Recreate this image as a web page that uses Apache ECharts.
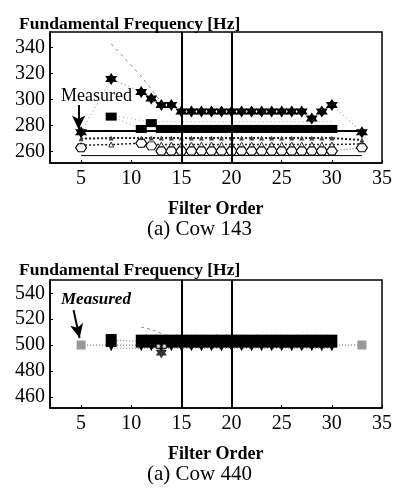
<!DOCTYPE html>
<html><head><meta charset="utf-8">
<script src="https://cdn.jsdelivr.net/npm/echarts@6/dist/echarts.min.js"></script>
<style>html,body{margin:0;padding:0;background:#fff}#c{width:397px;height:491px}</style>
</head><body><div id="c"></div>
<script>
// Filter orders at which points are plotted
const xs = [5, 8, 11, 12, 13, 14, 15, 16, 17, 18, 19, 20, 21, 22, 23, 24, 25, 26, 27, 28, 29, 30, 33];
const xTicks = [5, 10, 15, 20, 25, 30, 35];
const yTicksTop = [260, 280, 300, 320, 340];
const yTicksBot = [460, 480, 500, 520, 540];

// ---- Cow 143 ----
const starTop = [275, 316, 306, 301, 296, 296, 291, 291, 291, 291, 291, 291, 291, 291, 291, 291, 291, 291, 291, 285.5, 291, 296, 275];
const squareTop = [null, 287, 277.5, 282, 277.5, 277.5, 277.5, 277.5, 277.5, 277.5, 277.5, 277.5, 277.5, 277.5, 277.5, 277.5, 277.5, 277.5, 277.5, 277.5, 277.5, 277.5, null];
const grayTop = [null, 288, 284, 283, 283, 283, 283, 283, 283, 283, 283, 283, 283, 283, 283, 283, 283, 283, 283, 283, 283, 283, null];
const dotATop = [270, 270.5, 270.5, 270.5, 270.5, 270.5, 270.5, 270.5, 270.5, 270.5, 270.5, 270.5, 270.5, 270.5, 270.5, 270.5, 270.5, 270.5, 270.5, 270.5, 270.5, 270.5, 269];
const dotBTop = [265, 265.5, 266.5, 265.5, 265.5, 265.5, 265.5, 265.5, 265.5, 265.5, 265.5, 265.5, 265.5, 265.5, 265.5, 265.5, 265.5, 265.5, 265.5, 265.5, 265.5, 265.5, 266];
const hexTop = [263, null, 266.5, 264.5, 260.5, 260.5, 260.5, 260.5, 260.5, 260.5, 260.5, 260.5, 260.5, 260.5, 260.5, 260.5, 260.5, 260.5, 260.5, 260.5, 260.5, 260.5, 263];
const measuredTopX = [5, 33];
const measuredTopY = [276, 276];
const lowLineX = [5, 33];
const lowLineY = [257, 257];
const faintTopX = [8, 11, 13];
const faintTopY = [343, 318, 298];

// ---- Cow 440 ----
const hatchBotX = [5, 33];
const hatchBotY = [500, 500];
const squareBot = [null, 503.5, 503, 503, 503, 503, 503, 503, 503, 503, 503, 503, 503, 503, 503, 503, 503, 503, 503, 503, 503, 503, null];
const triBot = [null, 497.5, 497.5, 497.5, 497.5, 497.5, 497.5, 497.5, 497.5, 497.5, 497.5, 497.5, 497.5, 497.5, 497.5, 497.5, 497.5, 497.5, 497.5, 497.5, 497.5, 497.5, null];
const circBotX = [13];
const circBotY = [499];
const starBotX = [13];
const starBotY = [494];
const faintBotX = [11, 12, 13, 14];
const faintBotY = [514, 512, 509, 505];

const FONT = 'Liberation Serif';
const STAR = 'path://M0,-10L2.885,-5L8.66,-5L5.77,0L8.66,5L2.885,5L0,10L-2.885,5L-8.66,5L-5.77,0L-8.66,-5L-2.885,-5Z';
const HEX = 'path://M-5,0L-2.5,-4.33L2.5,-4.33L5,0L2.5,4.33L-2.5,4.33Z';

const pairs = (x, y) => x.map((v, i) => [v, y[i]]);

function xAxisDef(gi) {
  return {
    type: 'value', gridIndex: gi, min: 1.9, max: 35,
    axisLine: { show: true, lineStyle: { color: '#000', width: 1.5 } },
    axisTick: { show: true, inside: true, length: 3, customValues: xTicks, lineStyle: { color: '#000' } },
    axisLabel: { customValues: xTicks, color: '#000', fontFamily: FONT, fontSize: 20, margin: 6 },
    splitLine: { show: false }
  };
}
function yAxisDef(gi, min, max, ticks) {
  return {
    type: 'value', gridIndex: gi, min: min, max: max,
    axisLine: { show: true, lineStyle: { color: '#000', width: 1.5 } },
    axisTick: { show: true, inside: true, length: 3, customValues: ticks, lineStyle: { color: '#000' } },
    axisLabel: { customValues: ticks, color: '#000', fontFamily: FONT, fontSize: 20, margin: 5 },
    splitLine: { show: false }
  };
}
const vLines = (gi) => ({
  silent: true, symbol: 'none', label: { show: false },
  lineStyle: { color: '#000', width: 2, type: 'solid' },
  data: [{ xAxis: 15 }, { xAxis: 20 }]
});

const option = {
  backgroundColor: '#fff',
  animation: false,
  title: [
    { text: 'Fundamental Frequency [Hz]', left: 14, top: 10, textStyle: { fontFamily: FONT, fontSize: 17.5, fontWeight: 'bold', color: '#000' } },
    { text: 'Fundamental Frequency [Hz]', left: 14, top: 256, textStyle: { fontFamily: FONT, fontSize: 17.5, fontWeight: 'bold', color: '#000' } }
  ],
  grid: [
    { left: 50, top: 32, width: 332, height: 131, show: true, borderColor: '#000', borderWidth: 1.5, backgroundColor: 'transparent' },
    { left: 50, top: 280, width: 332, height: 128, show: true, borderColor: '#000', borderWidth: 1.5, backgroundColor: 'transparent' }
  ],
  xAxis: [xAxisDef(0), xAxisDef(1)],
  yAxis: [yAxisDef(0, 251.3, 352.1, yTicksTop), yAxisDef(1, 451.3, 550.3, yTicksBot)],
  graphic: [
    { type: 'text', left: 168, top: 200, style: { text: 'Filter Order', font: 'bold 18px "Liberation Serif"', fill: '#000' } },
    { type: 'text', left: 147, top: 219, style: { text: '(a) Cow 143', font: '21px "Liberation Serif"', fill: '#000' } },
    { type: 'text', left: 168, top: 445, style: { text: 'Filter Order', font: 'bold 18px "Liberation Serif"', fill: '#000' } },
    { type: 'text', left: 147, top: 464, style: { text: '(a) Cow 440', font: '21px "Liberation Serif"', fill: '#000' } },
    { type: 'text', left: 61, top: 87, style: { text: 'Measured', font: '18px "Liberation Serif"', fill: '#000' } },
    { type: 'text', left: 61, top: 291, style: { text: 'Measured', font: 'italic bold 17px "Liberation Serif"', fill: '#000' } }
  ],
  series: [
    // ---- top chart ----
    { type: 'line', xAxisIndex: 0, yAxisIndex: 0, data: pairs(faintTopX, faintTopY), showSymbol: false,
      lineStyle: { color: '#888', width: 1, type: [3, 4] }, z: 1,
      markLine: vLines(0) },
    { type: 'line', xAxisIndex: 0, yAxisIndex: 0, data: pairs(lowLineX, lowLineY), showSymbol: false,
      lineStyle: { color: '#000', width: 1 }, z: 2 },
    { type: 'line', xAxisIndex: 0, yAxisIndex: 0, data: pairs(xs, dotBTop), symbol: 'triangle', symbolSize: 5,
      itemStyle: { color: '#fff', borderColor: '#333', borderWidth: 1 },
      lineStyle: { color: '#222', width: 1.5, type: [2, 2] }, z: 3 },
    { type: 'line', xAxisIndex: 0, yAxisIndex: 0, data: pairs(xs, dotATop), symbol: 'triangle', symbolSize: 5,
      itemStyle: { color: '#444' },
      lineStyle: { color: '#222', width: 2, type: [2, 2] }, z: 3 },
    { type: 'line', xAxisIndex: 0, yAxisIndex: 0, data: pairs(xs, hexTop), symbol: HEX, symbolSize: [11, 8],
      itemStyle: { color: '#fff', borderColor: '#000', borderWidth: 1 },
      lineStyle: { color: '#666', width: 1, type: [1, 2] }, z: 4 },
    { type: 'line', xAxisIndex: 0, yAxisIndex: 0, data: pairs(xs, grayTop), showSymbol: false,
      lineStyle: { color: '#aaa', width: 1, type: [1, 3] }, z: 3 },
    { type: 'line', xAxisIndex: 0, yAxisIndex: 0, data: pairs(measuredTopX, measuredTopY), showSymbol: false,
      lineStyle: { color: '#000', width: 2 }, z: 5,
      markLine: { silent: true, symbol: ['none', 'arrow'], symbolSize: [10, 14], label: { show: false },
        lineStyle: { color: '#000', width: 2, type: 'solid' },
        data: [[{ coord: [4.75, 296] }, { coord: [4.75, 277] }]] } },
    { type: 'line', xAxisIndex: 0, yAxisIndex: 0, data: pairs(xs, squareTop), symbol: 'rect', symbolSize: [11, 8],
      itemStyle: { color: '#000' },
      lineStyle: { color: '#999', width: 1, type: [1, 3] }, z: 6 },
    { type: 'line', xAxisIndex: 0, yAxisIndex: 0, data: pairs(xs, starTop), symbol: STAR, symbolSize: 12,
      itemStyle: { color: '#000' },
      lineStyle: { color: '#888', width: 1, type: [1, 3] }, z: 7 },

    // ---- bottom chart ----
    { type: 'line', xAxisIndex: 1, yAxisIndex: 1, data: pairs(faintBotX, faintBotY), showSymbol: false,
      lineStyle: { color: '#888', width: 1, type: [3, 3] }, z: 1,
      markLine: vLines(1) },
    { type: 'line', xAxisIndex: 1, yAxisIndex: 1, data: pairs(hatchBotX, hatchBotY), symbol: 'rect', symbolSize: 9,
      itemStyle: { color: '#999' },
      lineStyle: { color: '#555', width: 1, type: [1, 2] }, z: 2,
      markLine: { silent: true, symbol: ['none', 'arrow'], symbolSize: [10, 14], label: { show: false },
        lineStyle: { color: '#000', width: 2, type: 'solid' },
        data: [[{ coord: [4.25, 527] }, { coord: [4.85, 505.5] }]] } },
    { type: 'line', xAxisIndex: 1, yAxisIndex: 1, data: pairs(xs, triBot), symbol: 'triangle', symbolRotate: 180, symbolSize: 6,
      itemStyle: { color: '#000' },
      lineStyle: { color: '#777', width: 1, type: [1, 2] }, z: 3 },
    { type: 'line', xAxisIndex: 1, yAxisIndex: 1, data: pairs(xs, squareBot), symbol: 'rect', symbolSize: [11, 13],
      itemStyle: { color: '#000' },
      lineStyle: { color: '#777', width: 1, type: [1, 2] }, z: 4 },
    { type: 'scatter', xAxisIndex: 1, yAxisIndex: 1, data: pairs(starBotX, starBotY), symbol: STAR, symbolSize: 11,
      itemStyle: { color: '#000' }, z: 5 },
    { type: 'scatter', xAxisIndex: 1, yAxisIndex: 1, data: pairs(circBotX, circBotY), symbol: 'circle', symbolSize: 5,
      symbolOffset: [-3, 0], itemStyle: { color: '#fff', borderColor: '#000', borderWidth: 1.5 }, z: 6 },
    { type: 'scatter', xAxisIndex: 1, yAxisIndex: 1, data: pairs(circBotX, circBotY), symbol: 'circle', symbolSize: 5,
      symbolOffset: [3, 0], itemStyle: { color: '#fff', borderColor: '#000', borderWidth: 1.5 }, z: 6 }
  ]
};
const chart = echarts.init(document.getElementById('c'), null, { renderer: 'canvas' });
chart.setOption(option);
</script></body></html>
